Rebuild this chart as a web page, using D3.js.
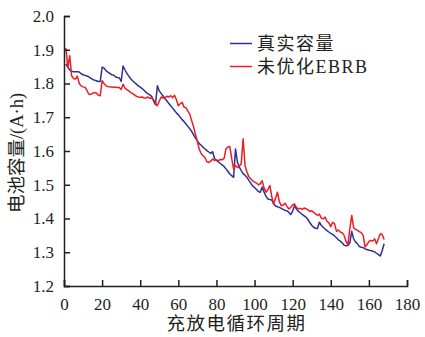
<!DOCTYPE html>
<html>
<head>
<meta charset="utf-8">
<script src="https://cdn.jsdelivr.net/npm/d3@7"></script>
<style>
  html, body { margin: 0; padding: 0; background: #fff; }
  svg { display: block; }
  text { fill: #231f20; font-family: "Liberation Serif", "Noto Sans CJK SC", serif; }
</style>
</head>
<body>
<svg id="chart" width="425" height="337"></svg>
<script>
// Charge/discharge cycle number (1..168)
const cycles = d3.range(1, 169);

// Measured battery capacity (A·h) per cycle
const actualCapacity = [
  1.858, 1.848, 1.840, 1.836, 1.835, 1.835, 1.835, 1.834, 1.829, 1.826,
  1.824, 1.822, 1.820, 1.816, 1.812, 1.810, 1.808, 1.806, 1.806, 1.848,
  1.846, 1.838, 1.834, 1.830, 1.826, 1.825, 1.820, 1.818, 1.817, 1.806,
  1.852, 1.840, 1.830, 1.822, 1.814, 1.808, 1.803, 1.798, 1.793, 1.789,
  1.785, 1.780, 1.774, 1.770, 1.766, 1.762, 1.748, 1.737, 1.793, 1.778,
  1.770, 1.763, 1.755, 1.748, 1.741, 1.734, 1.727, 1.720, 1.713, 1.707,
  1.700, 1.693, 1.687, 1.680, 1.673, 1.666, 1.658, 1.648, 1.638, 1.630,
  1.622, 1.617, 1.611, 1.606, 1.601, 1.597, 1.593, 1.598, 1.578, 1.572,
  1.568, 1.563, 1.559, 1.554, 1.547, 1.540, 1.532, 1.527, 1.522, 1.606,
  1.567, 1.552, 1.542, 1.533, 1.528, 1.522, 1.513, 1.505, 1.496, 1.492,
  1.486, 1.480, 1.478, 1.493, 1.478, 1.466, 1.458, 1.456, 1.455, 1.444,
  1.437, 1.435, 1.433, 1.430, 1.427, 1.424, 1.423, 1.418, 1.412, 1.422,
  1.438, 1.428, 1.421, 1.417, 1.412, 1.408, 1.404, 1.397, 1.388, 1.380,
  1.374, 1.371, 1.370, 1.389, 1.380, 1.374, 1.369, 1.364, 1.360, 1.356,
  1.353, 1.348, 1.343, 1.337, 1.333, 1.328, 1.321, 1.319, 1.320, 1.328,
  1.362, 1.340, 1.330, 1.325, 1.317, 1.315, 1.314, 1.310, 1.308, 1.306,
  1.305, 1.303, 1.301, 1.297, 1.293, 1.289, 1.305, 1.325
];

// Capacity estimated by the non-optimized EBRB model
const ebrbCapacity = [
  1.905, 1.848, 1.882, 1.823, 1.815, 1.813, 1.822, 1.800, 1.793, 1.790,
  1.789, 1.780, 1.768, 1.768, 1.771, 1.773, 1.772, 1.765, 1.764, 1.808,
  1.800, 1.793, 1.791, 1.790, 1.790, 1.789, 1.789, 1.788, 1.788, 1.782,
  1.798, 1.786, 1.782, 1.778, 1.773, 1.770, 1.766, 1.762, 1.760, 1.759,
  1.760, 1.757, 1.757, 1.760, 1.756, 1.757, 1.752, 1.742, 1.734, 1.748,
  1.760, 1.757, 1.758, 1.762, 1.760, 1.764, 1.758, 1.765, 1.752, 1.734,
  1.740, 1.744, 1.730, 1.728, 1.718, 1.709, 1.690, 1.672, 1.648, 1.628,
  1.605, 1.592, 1.586, 1.580, 1.568, 1.566, 1.570, 1.576, 1.572, 1.574,
  1.571, 1.575, 1.574, 1.578, 1.606, 1.612, 1.613, 1.578, 1.546, 1.557,
  1.551, 1.555, 1.562, 1.636, 1.557, 1.538, 1.524, 1.518, 1.512, 1.508,
  1.505, 1.500, 1.503, 1.512, 1.490, 1.478, 1.485, 1.498, 1.466, 1.443,
  1.460, 1.478, 1.450, 1.438, 1.440, 1.445, 1.436, 1.428, 1.433, 1.440,
  1.443, 1.432, 1.429, 1.430, 1.427, 1.431, 1.429, 1.426, 1.421, 1.423,
  1.418, 1.414, 1.409, 1.413, 1.401, 1.399, 1.404, 1.392, 1.387, 1.376,
  1.389, 1.384, 1.362, 1.366, 1.360, 1.358, 1.350, 1.332, 1.322, 1.370,
  1.409, 1.372, 1.368, 1.365, 1.361, 1.358, 1.350, 1.316, 1.322, 1.332,
  1.335, 1.333, 1.340, 1.325, 1.340, 1.355, 1.352, 1.338
];

const xTicks = [0, 20, 40, 60, 80, 100, 120, 140, 160, 180];
const yTicks = [1.2, 1.3, 1.4, 1.5, 1.6, 1.7, 1.8, 1.9, 2.0];

const seriesNames = ["真实容量", "未优化EBRB"];
const seriesColors = ["#2e3192", "#ed1c24"];

const svg = d3.select("#chart");
const margin = { left: 64, top: 16, right: 18, bottom: 51 };
const W = 425, H = 337;

const x = d3.scaleLinear().domain([0, 180]).range([margin.left, W - margin.right]);
const y = d3.scaleLinear().domain([1.2, 2.0]).range([H - margin.bottom, margin.top]);

// Series lines
const line = d3.line().x((d, i) => x(cycles[i])).y(d => y(d));
[actualCapacity, ebrbCapacity].forEach((vals, k) => {
  svg.append("path")
    .datum(vals)
    .attr("fill", "none")
    .attr("stroke", seriesColors[k])
    .attr("stroke-width", 1.5)
    .attr("stroke-linejoin", "round")
    .attr("d", line);
});

// Axes with inward ticks
const xAxis = svg.append("g")
  .attr("transform", `translate(0,${y(1.2)})`)
  .call(d3.axisBottom(x).tickValues(xTicks).tickSize(-6).tickPadding(10).tickFormat(d3.format("d")));
const yAxis = svg.append("g")
  .attr("transform", `translate(${x(0)},0)`)
  .call(d3.axisLeft(y).tickValues(yTicks).tickSize(-6).tickPadding(10).tickFormat(d3.format(".1f")));

[xAxis, yAxis].forEach(g => {
  g.select(".domain").attr("stroke", "#231f20").attr("stroke-width", 1.5);
  g.selectAll(".tick line").attr("stroke", "#231f20").attr("stroke-width", 1.5);
  g.selectAll(".tick text")
    .attr("fill", "#231f20")
    .style("font-family", "'Liberation Serif', serif")
    .style("font-size", "17px");
});
xAxis.selectAll(".tick text").attr("dy", "0.85em");

// Axis titles
svg.append("text")
  .attr("x", (x(0) + x(180)) / 2 + 1)
  .attr("y", 330)
  .attr("text-anchor", "middle")
  .style("font-size", "18.5px")
  .style("letter-spacing", "1.5px")
  .text("充放电循环周期");

svg.append("text")
  .attr("transform", `translate(23,${(y(1.2) + y(2.0)) / 2 + 2}) rotate(-90)`)
  .attr("text-anchor", "middle")
  .style("font-size", "18.5px")
  .text("电池容量/(A·h)");

// Legend
const legend = svg.append("g");
seriesNames.forEach((name, k) => {
  const ly = 43.5 + k * 23;
  legend.append("line")
    .attr("x1", 230).attr("x2", 252)
    .attr("y1", ly).attr("y2", ly)
    .attr("stroke", seriesColors[k])
    .attr("stroke-width", 1.5);
  legend.append("text")
    .attr("x", 257)
    .attr("y", ly + 6.5)
    .style("font-size", "18px")
    .style("letter-spacing", "1.5px")
    .text(name);
});
</script>
</body>
</html>
